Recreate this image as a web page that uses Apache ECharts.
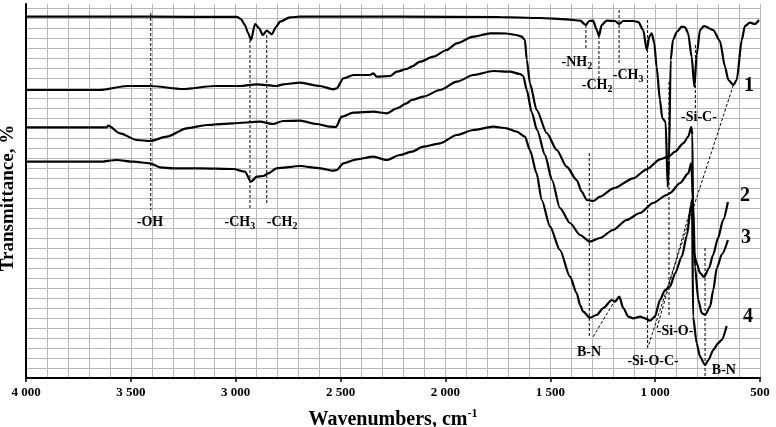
<!DOCTYPE html>
<html><head><meta charset="utf-8">
<script src="https://cdn.jsdelivr.net/npm/echarts@6/dist/echarts.min.js"></script>
<style>html,body{margin:0;padding:0;background:#fff}#c{width:776px;height:427px}</style>
</head><body><div id="c"></div>
<script>
// ---- data: [wavenumber (cm-1), transmittance (arb. %)] ----
const curve1 = [[4000,36.13],[3409,36.13],[2994,36.11],[2975,35.9],[2956,35.3],[2941,34.5],[2927,33.8],[2908,35.4],[2889,35.0],[2871,34.3],[2852,34.73],[2828,34.37],[2808,35.1],[2789,35.63],[2741,36.07],[2693,36.13],[2217,36.13],[1740,36.1],[1549,36.0],[1422,35.87],[1358,35.73],[1330,35.3],[1315,35.7],[1296,35.73],[1278,34.8],[1268,34.2],[1255,35.3],[1231,35.73],[1191,35.7],[1172,35.4],[1152,35.7],[1104,35.7],[1080,35.6],[1057,34.8],[1040,32.8],[1028,34.13],[1016,34.47],[1004,33.47],[993,31.13],[977,27.8],[966,26.0],[950,25.6],[940,19.1],[934,21.8],[926,31.8],[915,33.8],[897,34.6],[873,35.13],[858,35.1],[843,34.5],[826,32.13],[813,29.13],[802,32.3],[786,34.8],[767,35.2],[723,34.8],[691,33.7],[667,31.13],[651,29.8],[627,29.3],[611,29.8],[587,33.8],[572,35.2],[548,35.53],[524,35.4],[505,35.8]];
const curve2 = [[4000,28.8],[3647,28.8],[3518,29.2],[3409,29.2],[3251,28.9],[3099,29.2],[2980,29.2],[2900,29.37],[2805,29.2],[2773,29.37],[2693,29.53],[2598,29.2],[2535,28.87],[2518,28.97],[2487,29.97],[2439,30.3],[2360,30.3],[2344,30.47],[2328,30.13],[2264,30.2],[2232,30.63],[2185,30.9],[2161,31.13],[2121,31.63],[2058,32.13],[1994,32.8],[1946,33.47],[1867,34.13],[1787,34.47],[1708,34.45],[1663,34.3],[1636,34.13],[1621,33.8],[1612,31.8],[1597,29.47],[1565,26.8],[1517,24.5],[1469,22.8],[1422,21.13],[1374,19.8],[1350,18.63],[1326,17.8],[1295,17.7],[1263,18.13],[1199,18.97],[1104,19.97],[1040,20.87],[977,21.87],[937,22.13],[905,22.63],[866,23.47],[842,24.13],[828,25.1],[822,24.3],[819,12.8],[802,11.5],[786,10.5],[767,10.1],[743,11.0],[724,12.3],[700,14.0],[676,15.8],[653,17.6]];
const curve3 = [[4000,25.07],[3615,25.07],[3608,25.23],[3552,24.47],[3472,23.8],[3409,23.7],[3329,24.13],[3234,24.97],[3138,25.3],[3012,25.47],[2884,25.63],[2822,25.4],[2774,25.7],[2693,25.73],[2614,25.4],[2550,25.13],[2522,25.1],[2495,26.13],[2439,26.53],[2344,26.63],[2280,26.47],[2232,26.97],[2185,27.47],[2161,27.8],[2106,28.13],[2026,28.8],[1946,29.63],[1867,30.3],[1772,30.7],[1692,30.63],[1644,30.4],[1629,30.2],[1612,28.8],[1589,26.6],[1563,24.8],[1525,22.3],[1492,19.8],[1454,17.0],[1406,15.5],[1358,14.3],[1311,13.63],[1263,14.0],[1201,14.8],[1136,15.8],[1072,16.5],[1010,17.5],[945,18.3],[929,18.5],[881,19.5],[842,20.47],[828,21.5],[819,17.8],[810,11.1],[794,7.8],[778,6.5],[762,6.3],[738,7.13],[723,8.8],[706,11.0],[681,12.4],[653,13.8]];
const curve4 = [[4000,21.63],[3647,21.63],[3568,21.8],[3488,21.63],[3409,21.47],[3361,21.07],[3298,20.97],[3170,20.97],[3012,20.9],[2956,20.63],[2927,19.63],[2900,20.13],[2868,20.2],[2845,20.47],[2805,20.97],[2693,21.2],[2598,20.97],[2535,20.73],[2518,20.8],[2487,21.47],[2423,21.87],[2344,22.13],[2280,21.8],[2217,22.3],[2161,22.63],[2106,23.13],[2026,23.47],[1946,24.3],[1867,24.8],[1772,25.13],[1708,24.97],[1660,24.63],[1621,24.13],[1597,22.8],[1565,20.47],[1541,17.8],[1501,15.13],[1454,12.8],[1406,10.13],[1374,8.5],[1358,7.3],[1343,6.63],[1311,6.03],[1279,6.3],[1247,7.0],[1207,7.8],[1191,7.63],[1171,8.13],[1152,7.0],[1128,6.13],[1104,5.97],[1072,6.13],[1048,5.97],[1025,5.73],[1001,6.13],[977,7.8],[953,8.8],[929,9.13],[905,10.47],[873,12.13],[848,14.3],[829,17.3],[824,17.8],[819,6.13],[802,3.5],[786,2.13],[762,1.3],[746,1.8],[723,2.8],[699,3.5],[683,3.8],[659,5.2]];

// dashed assignment guides: [start, end]
const guides = [
  [[3405,36.5],[3405,16.8]],
  [[2932,33.8],[2932,16.8]],
  [[2852,34.3],[2852,17.3]],
  [[1330,35.3],[1330,32.8]],
  [[1268,34.2],[1268,29.8]],
  [[1172,36.8],[1172,31.3]],
  [[1036,35.8],[1036,2.8]],
  [[934,29.6],[934,6.2]],
  [[808,33.3],[808,26.8]],
  [[1314,22.5],[1314,4.0]],
  [[762,13.0],[762,0]],
  [[627,29.3],[1034,3.1]],
  [[991,5.0],[829,17.1]],
  [[1295,4.13],[1191,7.8]]
];
// band labels: [wavenumber, value, text]
const bandLabels = [
  [3409,15.6,'{n|-OH}'],
  [2980,15.6,'{n|-CH}{s|3}'],
  [2779,15.6,'{n|-CH}{s|2}'],
  [1373,31.6,'{n|-NH}{s|2}'],
  [1277,29.3,'{n|-CH}{s|2}'],
  [1129,30.3,'{n|-CH}{s|3}'],
  [791,26.1,'{n|-Si-C-}'],
  [1315,2.6,'{n|B-N}'],
  [1010,1.7,'{n|-Si-O-C-}'],
  [905,4.7,'{n|-Si-O-}'],
  [672,0.8,'{n|B-N}']
];
const curveNames = [[552,29.2,'1'],[571,18.2,'2'],[567,14.0,'3'],[557,6.1,'4']];

const FONT = '"Liberation Serif","Times New Roman",serif';
const GRIDC = '#b8b8b8';
const chart = echarts.init(document.getElementById('c'), null, {renderer:'canvas'});
const fmtX = v => v >= 1000 ? Math.floor(v/1000) + ' ' + String(v%1000).padStart(3,'0') : String(v);
const rich = {
  n:{fontFamily:FONT,fontWeight:'bold',fontSize:14,lineHeight:18,color:'#000'},
  s:{fontFamily:FONT,fontWeight:'bold',fontSize:10,lineHeight:10,verticalAlign:'bottom',color:'#000'}
};
const series = [];
[curve1,curve2,curve3,curve4].forEach(c => series.push({
  type:'line', xAxisIndex:0, yAxisIndex:0, data:c, symbol:'none', silent:true,
  smooth:0.25, smoothMonotone:'x',
  lineStyle:{color:'#000',width:2.2}, z:5
}));
guides.forEach(g => series.push({
  type:'line', xAxisIndex:0, yAxisIndex:0, data:g, symbol:'none', silent:true,
  lineStyle:{color:'#000',width:1,type:[3,2]}, z:4
}));
const labelSeriesBase = {
  type:'scatter', xAxisIndex:0, yAxisIndex:0, symbolSize:1,
  itemStyle:{color:'rgba(255,255,255,0)', opacity:1}, silent:true, z:6,
  emphasis:{disabled:true}
};
series.push(Object.assign({}, labelSeriesBase, {
  data: bandLabels.map(d => ({value:[d[0],d[1]], label:{show:true, position:'inside', formatter:d[2], rich:rich,
    color:'#000', textBorderWidth:0, opacity:1}}))
}));
series.push(Object.assign({}, labelSeriesBase, {
  data: curveNames.map(d => ({value:[d[0],d[1]], label:{show:true, position:'inside', formatter:d[2],
    fontFamily:FONT, fontWeight:'bold', fontSize:20, color:'#000', textBorderWidth:0, opacity:1}}))
}));

chart.setOption({
  backgroundColor:'#fff',
  animation:false,
  grid:[
    {left:26, right:16, top:4, bottom:49, containLabel:false, outerBoundsMode:'none'},
    {left:26, right:16, top:8, bottom:49, containLabel:false, outerBoundsMode:'none'}
  ],
  xAxis:[
    {gridIndex:0, type:'value', min:500, max:4000, interval:100, inverse:true,
     axisLine:{show:false}, axisTick:{show:false}, axisLabel:{show:false},
     splitLine:{show:true, lineStyle:{color:GRIDC, width:1}}},
    {gridIndex:0, type:'value', min:500, max:4000, interval:500, inverse:true, position:'bottom',
     axisLine:{show:true, lineStyle:{color:'#000', width:2}},
     axisTick:{show:true, length:4, lineStyle:{color:'#000', width:1.5}},
     axisLabel:{show:true, margin:8, formatter:fmtX, fontFamily:FONT, fontWeight:'bold', fontSize:13, color:'#000'},
     splitLine:{show:false},
     name:'{n|Wavenumbers, cm}{p|-1}', nameLocation:'middle', nameGap:30,
     nameTextStyle:{rich:{
       n:{fontFamily:FONT, fontWeight:'bold', fontSize:20, lineHeight:23, color:'#000'},
       p:{fontFamily:FONT, fontWeight:'bold', fontSize:12, lineHeight:12, verticalAlign:'top', color:'#000'}}}},
    {gridIndex:1, type:'value', min:500, max:4000, inverse:true, show:false}
  ],
  yAxis:[
    {gridIndex:0, type:'value', min:0, max:37.4,
     axisLine:{show:true, lineStyle:{color:'#000', width:2}}, axisTick:{show:false}, axisLabel:{show:false},
     splitLine:{show:false},
     name:'Transmittance, %', nameLocation:'middle', nameGap:8, nameRotate:90,
     nameTextStyle:{fontFamily:FONT, fontWeight:'bold', fontSize:19, color:'#000', padding:[0,14,0,0]}},
    {gridIndex:1, type:'value', min:0, max:37, interval:1,
     axisLine:{show:false}, axisTick:{show:false}, axisLabel:{show:false},
     splitLine:{show:true, lineStyle:{color:GRIDC, width:1}}}
  ],
  series: series
});
</script></body></html>
